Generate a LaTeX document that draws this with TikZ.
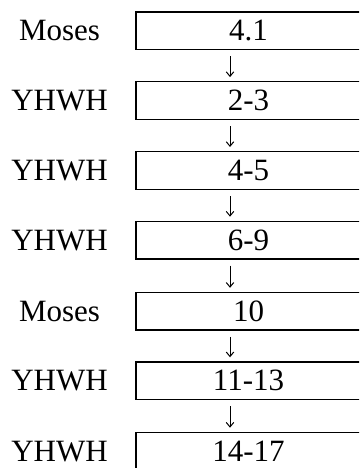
\documentclass[tikz,border=0pt]{standalone}
\usepackage{fontspec}
\setmainfont{Liberation Serif}
\usetikzlibrary{arrows.meta,calc}
\tikzset{
  stagebox/.style={draw, line width=1.4pt, rectangle, inner sep=0pt,
    minimum width=225pt, minimum height=37.6pt, font=\fontsize{31}{36}\selectfont},
  speaker/.style={inner sep=0pt, font=\fontsize{31}{36}\selectfont},
  flowarrow/.style={line width=1pt, -{Straight Barb[length=4.5pt,width=7.5pt,line width=1pt]}}
}
\begin{document}
\begin{tikzpicture}[x=1pt,y=-1pt]
\useasboundingbox (0,0) rectangle (359,468);
\clip (0,0) rectangle (359,468);
\coordinate (ax) at (230,0);
\node[stagebox] (b0) at (248.5,30.8) {4.1};
\node[stagebox] (b1) at (248.5,100.6) {2-3};
\node[stagebox] (b2) at (248.5,170.5) {4-5};
\node[stagebox] (b3) at (248.5,240.2) {6-9};
\node[stagebox] (b4) at (248.5,311.3) {10};
\node[stagebox] (b5) at (248.5,380.8) {11-13};
\node[stagebox] (b6) at (248.5,451.2) {14-17};
\node[speaker] (s0) at (59.5,30.8) {Moses};
\node[speaker] (s1) at (59.5,100.6) {YHWH};
\node[speaker] (s2) at (59.5,170.5) {YHWH};
\node[speaker] (s3) at (59.5,240.2) {YHWH};
\node[speaker] (s4) at (59.5,311.3) {Moses};
\node[speaker] (s5) at (59.5,380.8) {YHWH};
\node[speaker] (s6) at (59.5,451.2) {YHWH};
\foreach \a/\b in {b0/b1,b1/b2,b2/b3,b3/b4,b4/b5,b5/b6}{
  \draw[flowarrow] ([yshift=-6pt]\a.south -| ax) -- ([yshift=4pt]\b.north -| ax);
}
\end{tikzpicture}
\end{document}
